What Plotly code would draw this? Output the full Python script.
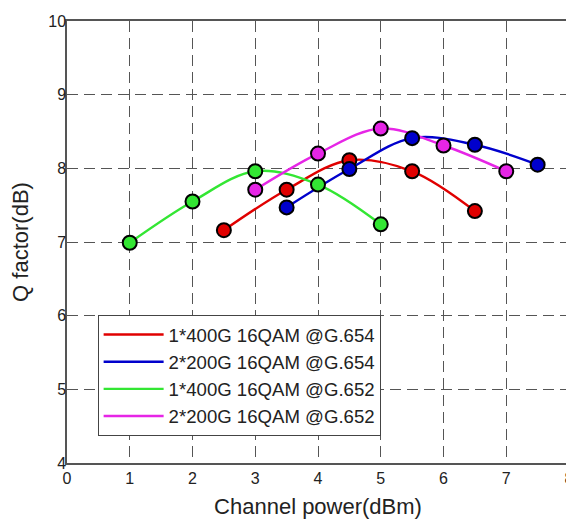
import plotly.graph_objects as go

# ---- data ----
x_red = [2.5, 3.5, 4.5, 5.5, 6.5]
y_red = [7.16, 7.71, 8.11, 7.96, 7.42]
x_blue = [3.5, 4.5, 5.5, 6.5, 7.5]
y_blue = [7.47, 7.99, 8.41, 8.32, 8.05]
x_green = [1, 2, 3, 4, 5]
y_green = [6.99, 7.55, 7.96, 7.78, 7.24]
x_mag = [3, 4, 5, 6, 7]
y_mag = [7.71, 8.20, 8.54, 8.31, 7.96]

names = ["1*400G 16QAM @G.654", "2*200G 16QAM @G.654",
         "1*400G 16QAM @G.652", "2*200G 16QAM @G.652"]
colors = ["#e00000", "#0000cc", "#33e633", "#e625e6"]
series = [(x_red, y_red), (x_blue, y_blue), (x_green, y_green), (x_mag, y_mag)]

x_ticks = [0, 1, 2, 3, 4, 5, 6, 7, 8]
y_ticks = [4, 5, 6, 7, 8, 9, 10]

fig = go.Figure()
for i, ((xs, ys), n, c) in enumerate(zip(series, names, colors)):
    fig.add_trace(go.Scatter(x=xs, y=ys, mode="lines", name=n,
                             line=dict(color=c, width=2.4, shape="spline", smoothing=1.0)))
for i, ((xs, ys), c) in enumerate(zip(series, colors)):
    fig.add_trace(go.Scatter(x=xs, y=ys, mode="markers", showlegend=False,
                             marker=dict(color=c, size=14, line=dict(color="black", width=2))))

font_family = "Liberation Sans, Arial, sans-serif"
axis_common = dict(showline=True, linecolor="#555", linewidth=1.5, mirror=True,
                   showgrid=True, gridcolor="#555", gridwidth=1.3, griddash="11px,6px",
                   zeroline=False, ticks="", ticklen=0, automargin=False,
                   tickfont=dict(size=16, color="#222", family=font_family))

# the page body adds an 8px offset; the figure is sized so the plot area lands where the reference has it
fig.update_layout(
    width=566, height=511,
    margin=dict(l=59, r=5, t=13, b=56),
    plot_bgcolor="white", paper_bgcolor="white",
    font=dict(family=font_family, color="#222"),
    xaxis=dict(range=[0, 8], tickvals=x_ticks,
               title=dict(text="Channel power(dBm)", font=dict(size=22), standoff=14),
               **axis_common),
    yaxis=dict(range=[4, 10], tickvals=y_ticks, ticklabelstandoff=-4,
               title=dict(text="Q factor(dB)", font=dict(size=22), standoff=16),
               **axis_common),
    legend=dict(x=0.061, y=0.335, xanchor="left", yanchor="top",
                bgcolor="white", bordercolor="#444", borderwidth=1,
                font=dict(size=18.6, color="#222", family=font_family),
                tracegroupgap=0, itemwidth=60),
    showlegend=True,
)

fig.write_html("out.html")
